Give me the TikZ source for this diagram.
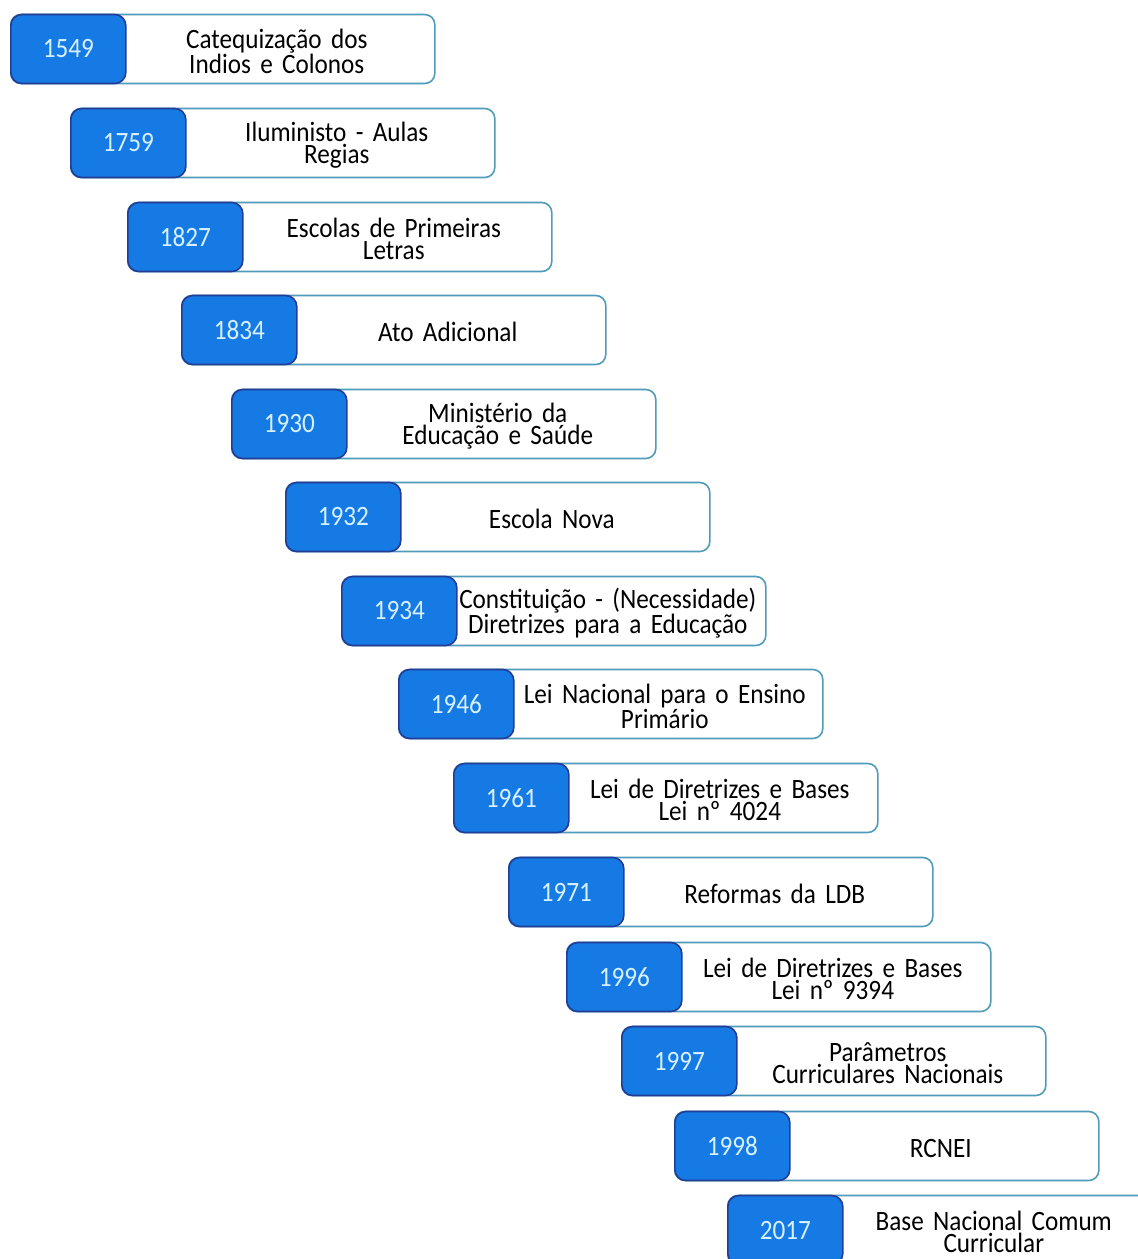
\documentclass[tikz,border=0pt]{standalone}
\usepackage{fontspec}
\setmainfont{Carlito}[FakeStretch=0.9,WordSpace=0.75]
\usetikzlibrary{positioning}
\definecolor{yearblue}{RGB}{22,122,228}
\definecolor{yearedge}{RGB}{35,60,150}
\definecolor{cardedge}{RGB}{80,155,185}
\definecolor{yeartext}{RGB}{215,240,255}
\begin{document}
\begin{tikzpicture}[x=1pt,y=-1pt,
  card/.style={draw=cardedge, line width=1.6pt, rounded corners=10pt, fill=white, minimum width=424pt, minimum height=69pt, inner sep=0pt, anchor=west},
  year/.style={draw=yearedge, line width=1.6pt, fill=yearblue, rounded corners=11pt, minimum width=115pt, minimum height=69pt, inner sep=0pt, anchor=west, text=yeartext, font=\fontsize{28}{28}\selectfont},
  desc/.style={text width=300pt, inner sep=0pt, align=center, yshift=-2pt, text=black, font=\fontsize{28}{22.5}\selectfont}]
\useasboundingbox (0,0) rectangle (1138,1259);
\clip (0,0) rectangle (1138,1259);
% cards
\node (c1)  [card] at (10,49)   {};
\node (c2)  [card] at (70,143)  {};
\node (c3)  [card] at (127,237) {};
\node (c4)  [card] at (181,330) {};
\node (c5)  [card] at (231,424) {};
\node (c6)  [card] at (285,517) {};
\node (c7)  [card] at (341,611) {};
\node (c8)  [card] at (398,704) {};
\node (c9)  [card] at (453,798) {};
\node (c10) [card] at (508,892) {};
\node (c11) [card] at (566,977) {};
\node (c12) [card] at (621,1061) {};
\node (c13) [card] at (674,1146) {};
\node (c14) [card] at (727,1230) {};
% years
\node (y1)  [year] at (c1.west)  {1549};
\node (y2)  [year] at (c2.west)  {1759};
\node (y3)  [year] at (c3.west)  {1827};
\node (y4)  [year] at (c4.west)  {1834};
\node (y5)  [year] at (c5.west)  {1930};
\node (y6)  [year] at (c6.west)  {1932};
\node (y7)  [year] at (c7.west)  {1934};
\node (y8)  [year] at (c8.west)  {1946};
\node (y9)  [year] at (c9.west)  {1961};
\node (y10) [year] at (c10.west) {1971};
\node (y11) [year] at (c11.west) {1996};
\node (y12) [year] at (c12.west) {1997};
\node (y13) [year] at (c13.west) {1998};
\node (y14) [year] at (c14.west) {2017};
% texts
\node (t1)  [desc, right=0pt of y1]  {Catequização dos\\Indios e Colonos};
\node (t2)  [desc, right=0pt of y2]  {Iluministo - Aulas\\Regias};
\node (t3)  [desc, right=0pt of y3]  {Escolas de Primeiras\\Letras};
\node (t4)  [desc, right=0pt of y4]  {Ato Adicional};
\node (t5)  [desc, right=0pt of y5]  {Ministério da\\Educação e Saúde};
\node (t6)  [desc, right=0pt of y6]  {Escola Nova};
\node (t7)  [desc, right=0pt of y7]  {Constituição - (Necessidade)\\Diretrizes para a Educação};
\node (t8)  [desc, right=0pt of y8]  {Lei Nacional para o Ensino\\Primário};
\node (t9)  [desc, right=0pt of y9]  {Lei de Diretrizes e Bases\\Lei nº 4024};
\node (t10) [desc, right=0pt of y10] {Reformas da LDB};
\node (t11) [desc, right=0pt of y11] {Lei de Diretrizes e Bases\\Lei nº 9394};
\node (t12) [desc, right=0pt of y12] {Parâmetros\\Curriculares Nacionais};
\node (t13) [desc, right=0pt of y13] {RCNEI};
\node (t14) [desc, right=0pt of y14] {Base Nacional Comum\\Curricular};
\end{tikzpicture}
\end{document}
